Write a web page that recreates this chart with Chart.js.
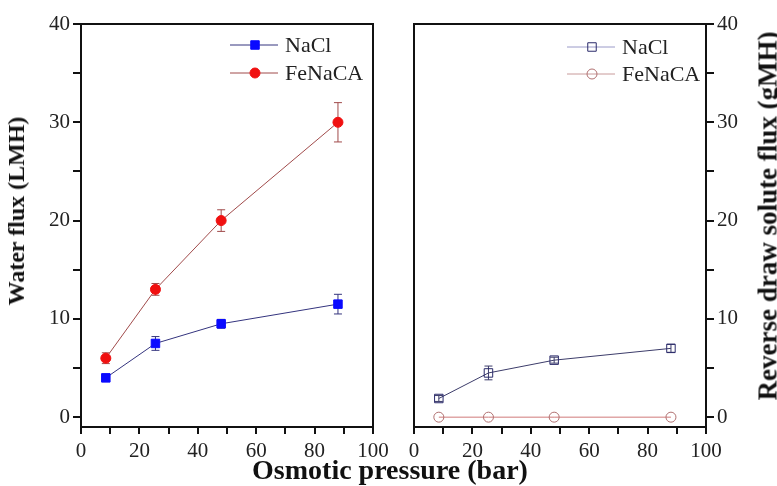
<!DOCTYPE html>
<html>
<head>
<meta charset="utf-8">
<script src="https://cdn.jsdelivr.net/npm/chart.js@4.4.1/dist/chart.umd.min.js"></script>
<style>
body { margin: 0; background: #fff; }
#wrap { position: relative; width: 777px; height: 486px; overflow: hidden; font-family: "Liberation Serif", "Times New Roman", serif; color: #111; }
#wrap canvas { position: absolute; top: 0; }
.ttl { position: absolute; font-weight: bold; white-space: nowrap; line-height: 1; transform: translate(-50%, -50%); }
.rot { transform: translate(-50%, -50%) rotate(-90deg); }
</style>
</head>
<body>
<div id="wrap">
  <canvas id="left" width="394" height="486" style="left:0"></canvas>
  <canvas id="right" width="387" height="486" style="left:390px"></canvas>
  <div class="ttl rot" style="left:16px;top:211px;font-size:24px">Water flux (LMH)</div>
  <div class="ttl rot" style="left:768px;top:216px;font-size:27px">Reverse draw solute flux (gMH)</div>
  <div class="ttl" style="left:390px;top:470px;font-size:28px">Osmotic pressure (bar)</div>
</div>
<script>
// data
const pressure = [8.5, 25.5, 48, 88];
const seriesNames = ['NaCl', 'FeNaCA'];

const waterNaCl = [4.0, 7.5, 9.5, 11.5];
const waterNaClErr = [0.3, 0.7, 0.45, 1.0];
const waterFe = [6.0, 13.0, 20.0, 30.0];
const waterFeErr = [0.55, 0.6, 1.1, 2.0];

const rsfNaCl = [1.9, 4.5, 5.8, 7.0];
const rsfNaClErr = [0.3, 0.7, 0.3, 0.4];
const rsfFe = [0, 0, 0, 0];
const rsfFeErr = [0, 0, 0, 0];

const xTicks = [0, 10, 20, 30, 40, 50, 60, 70, 80, 90, 100];
const yTicks = [0, 5, 10, 15, 20, 25, 30, 35, 40];

Chart.defaults.font.family = '"Liberation Serif", "Times New Roman", serif';
Chart.defaults.font.size = 21;
Chart.defaults.color = '#222';

const pts = ys => pressure.map((x, i) => ({x, y: ys[i]}));

// vertical error bars, drawn under the markers
const errorBars = {
  id: 'errorBars',
  beforeDatasetsDraw(chart) {
    const ctx = chart.ctx, xs = chart.scales.x, ys = chart.scales.y;
    chart.data.datasets.forEach(ds => {
      if (!ds.errors) return;
      ctx.save();
      ctx.strokeStyle = ds.borderColor;
      ctx.lineWidth = 1;
      ds.data.forEach((p, i) => {
        const e = ds.errors[i];
        if (!e) return;
        const px = xs.getPixelForValue(p.x);
        const top = ys.getPixelForValue(p.y + e), bot = ys.getPixelForValue(p.y - e);
        ctx.beginPath();
        ctx.moveTo(px, top); ctx.lineTo(px, bot);
        ctx.moveTo(px - 4, top); ctx.lineTo(px + 4, top);
        ctx.moveTo(px - 4, bot); ctx.lineTo(px + 4, bot);
        ctx.stroke();
      });
      ctx.restore();
    });
  }
};

// box round the plot
const frame = {
  id: 'frame',
  afterDraw(chart) {
    const a = chart.chartArea, ctx = chart.ctx;
    ctx.save();
    ctx.strokeStyle = '#111';
    ctx.lineWidth = 2;
    ctx.strokeRect(a.left, a.top, a.right - a.left, a.bottom - a.top);
    ctx.restore();
  }
};

// Origin-style legend: line with marker in its middle
const lineLegend = {
  id: 'lineLegend',
  afterDraw(chart, args, opts) {
    const ctx = chart.ctx;
    chart.data.datasets.forEach((ds, i) => {
      const y = opts.y + i * opts.dy;
      ctx.save();
      ctx.strokeStyle = ds.legendLine || ds.borderColor;
      ctx.lineWidth = 1;
      ctx.beginPath();
      ctx.moveTo(opts.x, y); ctx.lineTo(opts.x + 48, y);
      ctx.stroke();
      ctx.fillStyle = ds.pointBackgroundColor;
      ctx.strokeStyle = ds.pointBorderColor;
      ctx.lineWidth = ds.pointBorderWidth;
      Chart.helpers.drawPoint(ctx, {pointStyle: ds.pointStyle, radius: ds.pointRadius, borderWidth: ds.pointBorderWidth}, opts.x + 25, y);
      ctx.fillStyle = '#222';
      ctx.font = '22px "Liberation Serif", "Times New Roman", serif';
      ctx.textBaseline = 'middle';
      ctx.fillText(ds.label, opts.x + 55, y + 1);
      ctx.restore();
    });
  }
};

function axisX() {
  return {
    type: 'linear', min: 0, max: 100,
    afterBuildTicks: s => { s.ticks = xTicks.map(v => ({value: v})); },
    afterFit: s => { s.height = 30; },
    ticks: { autoSkip: false, maxRotation: 0, padding: 5, callback: v => v % 20 === 0 ? v : '' },
    grid: { drawOnChartArea: false, drawTicks: true, tickLength: 7, lineWidth: 2, color: '#111' },
    border: { color: '#111', width: 2 }
  };
}

function axisY(pos, width) {
  return {
    type: 'linear', position: pos, min: -1, max: 40,
    afterBuildTicks: s => { s.ticks = yTicks.map(v => ({value: v})); },
    afterFit: s => { s.width = width; },
    ticks: { autoSkip: false, padding: 3, callback: v => v % 10 === 0 ? v : '' },
    grid: { drawOnChartArea: false, drawTicks: true, tickLength: 8, lineWidth: 2, color: '#111' },
    border: { color: '#111', width: 2 }
  };
}

new Chart(document.getElementById('left'), {
  type: 'line',
  data: {
    datasets: [
      { label: seriesNames[0], data: pts(waterNaCl), errors: waterNaClErr,
        borderColor: '#34347e', borderWidth: 1, pointStyle: 'rect', pointRadius: 6,
        pointBackgroundColor: '#0a0aff', pointBorderColor: '#0a0aff', pointBorderWidth: 1 },
      { label: seriesNames[1], data: pts(waterFe), errors: waterFeErr,
        borderColor: '#a04a4a', borderWidth: 1, pointStyle: 'circle', pointRadius: 5,
        pointBackgroundColor: '#f01010', pointBorderColor: '#f01010', pointBorderWidth: 1 }
    ]
  },
  options: {
    responsive: false, animation: false,
    layout: { padding: { left: 0, top: 24, right: 21, bottom: 29 } },
    plugins: { legend: { display: false }, tooltip: { enabled: false },
      lineLegend: { x: 230, y: 45, dy: 28 } },
    scales: { x: axisX(), y: axisY('left', 81) }
  },
  plugins: [errorBars, frame, lineLegend]
});

new Chart(document.getElementById('right'), {
  type: 'line',
  data: {
    datasets: [
      { label: seriesNames[0], data: pts(rsfNaCl), errors: rsfNaClErr,
        borderColor: '#3c3c6a', legendLine: '#9a9ac8', borderWidth: 1, pointStyle: 'rect', pointRadius: 6,
        pointBackgroundColor: 'rgba(0,0,0,0)', pointBorderColor: '#2a2a6a', pointBorderWidth: 1 },
      { label: seriesNames[1], data: pts(rsfFe), errors: rsfFeErr,
        borderColor: '#d07a7a', legendLine: '#c89a9a', borderWidth: 1, pointStyle: 'circle', pointRadius: 5,
        pointBackgroundColor: 'rgba(0,0,0,0)', pointBorderColor: '#b07070', pointBorderWidth: 1 }
    ]
  },
  options: {
    responsive: false, animation: false,
    layout: { padding: { left: 24, top: 24, right: 0, bottom: 29 } },
    plugins: { legend: { display: false }, tooltip: { enabled: false },
      lineLegend: { x: 177, y: 47, dy: 27 } },
    scales: { x: axisX(), y: axisY('right', 71) }
  },
  plugins: [errorBars, frame, lineLegend]
});
</script>
</body>
</html>
